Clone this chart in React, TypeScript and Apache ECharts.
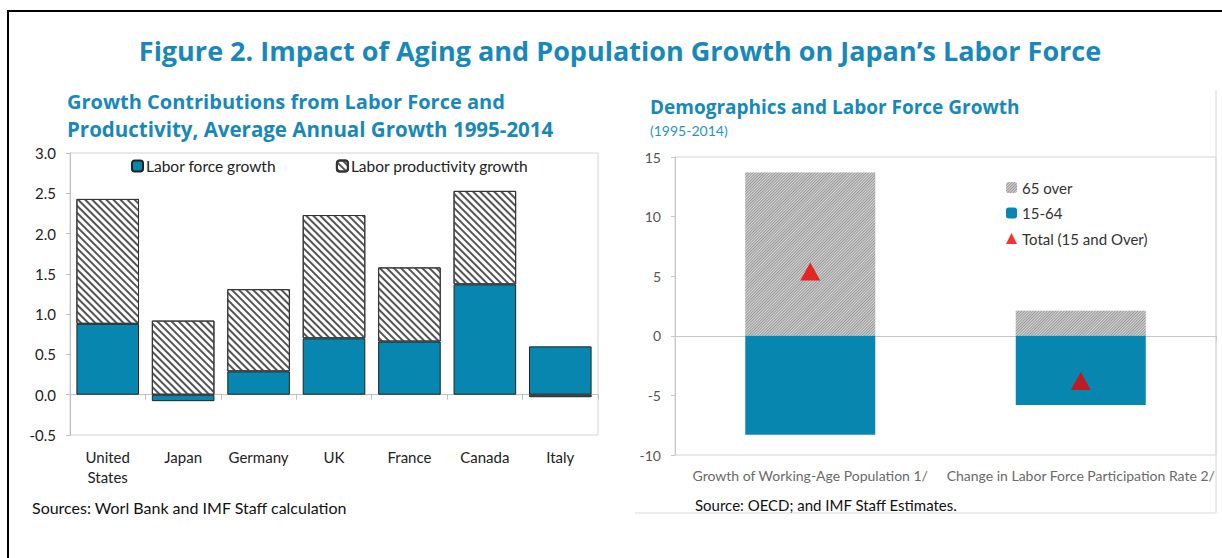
import React, { useEffect, useRef } from "react";
import * as echarts from "echarts";

// Left chart data
const countries = ["United\nStates", "Japan", "Germany", "UK", "France", "Canada", "Italy"];
const laborForce = [0.88, -0.08, 0.29, 0.70, 0.66, 1.37, 0.60];
const laborProductivity = [1.55, 0.92, 1.02, 1.53, 0.92, 1.16, -0.03];
const leftTicks = { min: -0.5, max: 3, interval: 0.5 };

// Right chart data
const demoCategories = ["Growth of Working-Age Population 1/", "Change in Labor Force Participation Rate 2/"];
const over65 = [13.7, 2.1];
const age15to64 = [-8.3, -5.8];
const total15Over = [5.4, -3.8];
const rightTicks = { min: -10, max: 15, interval: 5 };

const BLUE = "#0787b0";
const TITLE = "#1888bb";
const FONT = "Lato, 'Open Sans', sans-serif";

export default function App() {
  const ref = useRef<HTMLDivElement>(null);
  useEffect(() => {
    if (!ref.current) return;
    const chart = echarts.init(ref.current, null, { renderer: "svg" });
    const hatch = {
      symbol: "rect",
      symbolSize: 1,
      color: "#555",
      backgroundColor: "#fff",
      dashArrayX: [1, 0],
      dashArrayY: [2, 2.5],
      rotation: Math.PI / 4,
    };
    const fine = {
      symbol: "rect",
      symbolSize: 1,
      color: "#999",
      backgroundColor: "#d4d4d4",
      dashArrayX: [1, 0],
      dashArrayY: [1, 1],
      rotation: -Math.PI / 4,
    };
    chart.setOption({
      animation: false,
      textStyle: { fontFamily: FONT },
      legend: [
        {
          left: 126,
          top: 153,
          itemWidth: 11,
          itemHeight: 11,
          itemGap: 60,
          textStyle: { fontSize: 15.5, color: "#222", fontFamily: FONT, padding: [0, 0, 0, -2] },
          data: ["Labor force growth", "Labor productivity growth"],
        },
        {
          left: 1001,
          top: 175,
          orient: "vertical",
          itemWidth: 11,
          itemHeight: 11,
          itemGap: 10.5,
          textStyle: { fontSize: 15, color: "#333", fontFamily: FONT },
          data: ["65 over", "15-64", "Total (15 and Over)"],
        },
      ],
      grid: [
        { left: 70, right: 624, top: 153, bottom: 123, show: true, borderColor: "#d4d4d4", borderWidth: 1 },
        { left: 675, right: 6, top: 157, bottom: 103, show: true, borderColor: "#d4d4d4", borderWidth: 1 },
      ],
      xAxis: [
        {
          gridIndex: 0,
          type: "category",
          data: countries,
          axisLine: { show: false, onZero: false },
          axisTick: { show: false },
          axisLabel: { interval: 0, fontSize: 15, color: "#222", margin: 12, lineHeight: 20, fontFamily: FONT },
        },
        {
          gridIndex: 0,
          type: "category",
          data: countries,
          axisLine: { show: true, onZero: true, lineStyle: { color: "#c0c0c0" } },
          axisTick: { show: true, inside: true, length: 5, lineStyle: { color: "#c0c0c0" } },
          axisLabel: { show: false },
        },
        {
          gridIndex: 1,
          type: "category",
          data: demoCategories,
          axisLine: { show: false, onZero: false },
          axisTick: { show: false },
          axisLabel: { interval: 0, fontSize: 14, color: "#6a6a6a", margin: 13, fontFamily: FONT },
        },
        {
          gridIndex: 1,
          type: "category",
          data: demoCategories,
          axisLine: { show: true, onZero: true, lineStyle: { color: "#c8c8c8" } },
          axisTick: { show: true, inside: true, length: 5, lineStyle: { color: "#c8c8c8" } },
          axisLabel: { show: false },
        },
      ],
      yAxis: [
        {
          gridIndex: 0,
          type: "value",
          min: leftTicks.min,
          max: leftTicks.max,
          interval: leftTicks.interval,
          axisLine: { show: true, lineStyle: { color: "#c0c0c0" } },
          axisTick: { show: true, length: 4, lineStyle: { color: "#c0c0c0" } },
          splitLine: { show: false },
          axisLabel: { fontSize: 15, color: "#222", margin: 14, formatter: (v: number) => v.toFixed(1), fontFamily: FONT },
        },
        {
          gridIndex: 1,
          type: "value",
          min: rightTicks.min,
          max: rightTicks.max,
          interval: rightTicks.interval,
          axisLine: { show: true, lineStyle: { color: "#c8c8c8" } },
          axisTick: { show: true, length: 4, lineStyle: { color: "#c8c8c8" } },
          splitLine: { show: false },
          axisLabel: { fontSize: 14, color: "#555", margin: 14, fontFamily: FONT },
        },
      ],
      series: [
        {
          name: "Labor force growth",
          type: "bar",
          xAxisIndex: 0,
          yAxisIndex: 0,
          stack: "left",
          barCategoryGap: "17%",
          data: laborForce,
          itemStyle: { color: BLUE, borderColor: "#222", borderWidth: 1 },
        },
        {
          name: "Labor productivity growth",
          type: "bar",
          xAxisIndex: 0,
          yAxisIndex: 0,
          stack: "left",
          data: laborProductivity,
          itemStyle: { color: "#fff", borderColor: "#333", borderWidth: 1, decal: hatch },
        },
        {
          name: "65 over",
          type: "bar",
          xAxisIndex: 2,
          yAxisIndex: 1,
          stack: "right",
          barWidth: 130,
          data: over65,
          itemStyle: { color: "#d4d4d4", decal: fine },
        },
        {
          name: "15-64",
          type: "bar",
          xAxisIndex: 2,
          yAxisIndex: 1,
          stack: "right",
          barWidth: 130,
          data: age15to64,
          itemStyle: { color: BLUE },
        },
        {
          name: "Total (15 and Over)",
          type: "scatter",
          xAxisIndex: 2,
          yAxisIndex: 1,
          symbol: "triangle",
          symbolSize: [20, 18],
          data: total15Over,
          itemStyle: { color: "#ee0000" },
          z: 5,
        },
      ],
      graphic: [
        {
          type: "polyline",
          shape: { points: [[8, 560], [8, 11], [1224, 11]] },
          style: { stroke: "#000", lineWidth: 2, fill: null },
        },
        {
          type: "polyline",
          shape: { points: [[1216, 90], [1216, 513], [635, 513]] },
          style: { stroke: "#d9d9d9", lineWidth: 1, fill: null },
        },
        {
          type: "text",
          x: 620,
          y: 50,
          style: {
            text: "Figure 2. Impact of Aging and Population Growth on Japan\u2019s Labor Force",
            fontSize: 27,
            fontWeight: "bold",
            fill: TITLE,
            fontFamily: "'Open Sans', sans-serif",
            align: "center",
            verticalAlign: "middle",
          },
        },
        {
          type: "text",
          x: 67,
          y: 101,
          style: {
            text: "Growth Contributions from Labor Force and",
            fontSize: 20,
            fontWeight: "bold",
            fill: TITLE,
            fontFamily: "'Open Sans', sans-serif",
            verticalAlign: "middle",
          },
        },
        {
          type: "text",
          x: 67,
          y: 129,
          style: {
            text: "Productivity, Average Annual Growth 1995-2014",
            fontSize: 20.5,
            fontWeight: "bold",
            fill: TITLE,
            fontFamily: "'Open Sans', sans-serif",
            verticalAlign: "middle",
          },
        },
        {
          type: "text",
          x: 650,
          y: 107,
          style: {
            text: "Demographics and Labor Force Growth",
            fontSize: 19,
            fontWeight: "bold",
            fill: TITLE,
            fontFamily: "'Open Sans', sans-serif",
            verticalAlign: "middle",
          },
        },
        {
          type: "text",
          x: 650,
          y: 130,
          style: {
            text: "(1995-2014)",
            fontSize: 14,
            fill: "#2a93c2",
            fontFamily: FONT,
            verticalAlign: "middle",
          },
        },
        {
          type: "text",
          x: 32,
          y: 507,
          style: {
            text: "Sources: Worl Bank and IMF Staff calculation",
            fontSize: 16,
            fill: "#111",
            fontFamily: FONT,
            verticalAlign: "middle",
          },
        },
        {
          type: "text",
          x: 695,
          y: 505,
          style: {
            text: "Source: OECD; and IMF Staff Estimates.",
            fontSize: 15,
            fill: "#111",
            fontFamily: FONT,
            verticalAlign: "middle",
          },
        },
      ],
    });
    return () => chart.dispose();
  }, []);
  return (
    <div
      ref={ref}
      style={{ position: "absolute", left: 0, top: 0, width: 1222, height: 558, background: "#fff" }}
    />
  );
}
